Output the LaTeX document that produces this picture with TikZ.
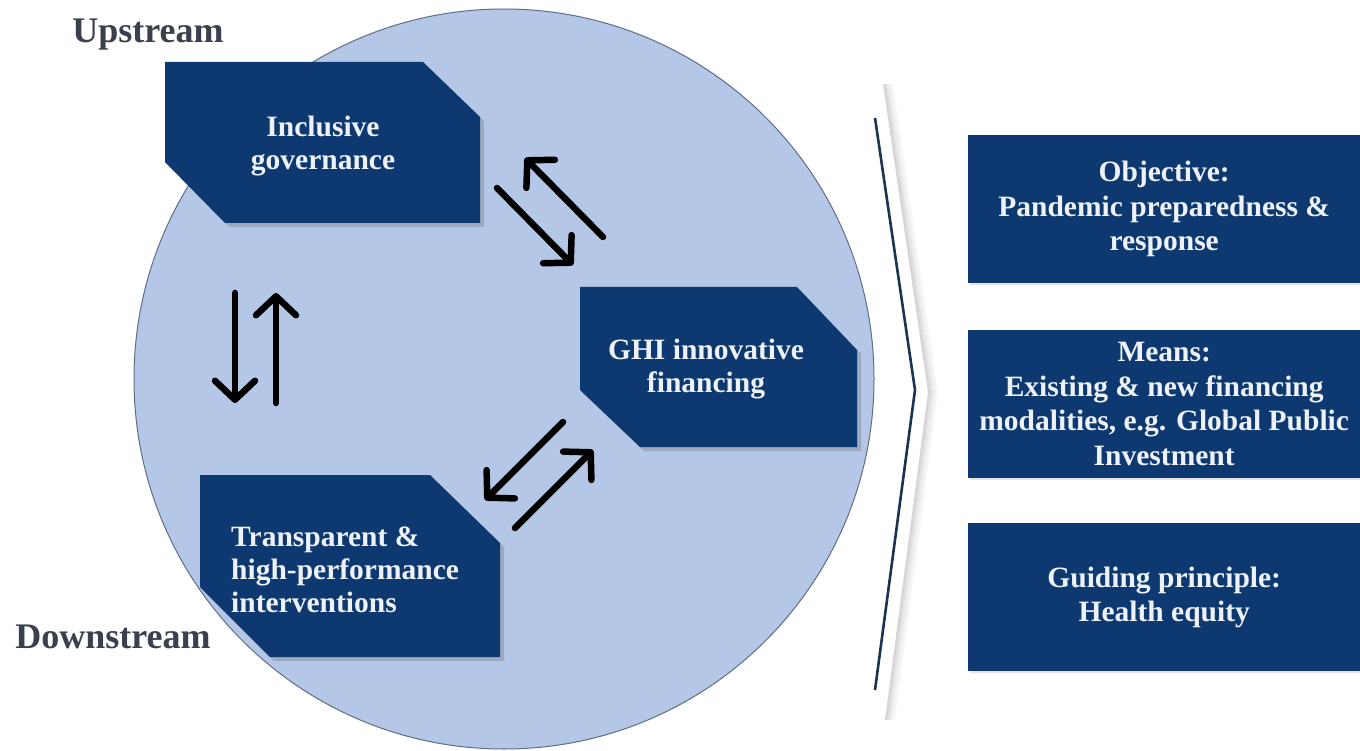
\documentclass[tikz,border=0pt]{standalone}
\usepackage{fontspec}
\setmainfont{Liberation Serif}
\usetikzlibrary{arrows.meta,shadows}
\definecolor{navy}{RGB}{13,57,112}
\definecolor{circfill}{RGB}{181,199,231}
\definecolor{circline}{RGB}{95,110,135}
\definecolor{boxtxt}{RGB}{238,242,248}
\definecolor{labtxt}{RGB}{58,64,78}
\definecolor{chevline}{RGB}{28,52,84}
\begin{document}
\begin{tikzpicture}[x=1pt,y=-1pt,
  navybox/.style={fill=navy, drop shadow={shadow xshift=4pt, shadow yshift=-4pt, opacity=0.3, fill=black!60}},
  boxtext/.style={text=boxtxt, font=\bfseries\fontsize{29.5}{33}\selectfont, align=center, inner sep=0pt},
  rbox/.style={fill=navy, minimum width=392pt, minimum height=148pt, inner sep=0pt, text=boxtxt,
    font=\bfseries\fontsize{29.5}{34.5}\selectfont, align=center, anchor=north west,
    drop shadow={shadow xshift=2pt, shadow yshift=-2pt, opacity=0.2, fill=black!50}},
  lab/.style={text=labtxt, font=\bfseries\fontsize{36}{40}\selectfont, anchor=base, inner sep=0pt},
  biarrow/.style={line width=6.5pt, line cap=round, black,
    -{Straight Barb[length=19pt, width=40pt, round]}},
  chevshade/.style={line width=2pt, black}
]
\useasboundingbox (0,0) rectangle (1360,751);
\fill[white] (0,0) rectangle (1360,751);

% chevron separator with soft shadow
\coordinate (sh1) at (884,84);
\coordinate (sh2) at (929,392);
\coordinate (sh3) at (886,720);
\foreach \d/\o in {0/0.16, 2/0.12, 4/0.08, 6/0.05, 8/0.03}{
  \draw[chevshade, opacity=\o] ([xshift=\d pt]sh1) -- ([xshift=\d pt]sh2) -- ([xshift=\d pt]sh3);
}
\coordinate (chtop) at (875,118);
\coordinate (chtip) at (915,390);
\coordinate (chbot) at (875,690);
\draw[chevline, line width=2.6pt] (chtop) -- (chtip) -- (chbot);

% big circle
\filldraw[fill=circfill, draw=circline, line width=1pt] (504,379) circle[radius=370];

% left boxes
\fill[navybox] (165,62) -- (423,62) -- (480,117) -- (480,223) -- (225,223) -- (165,162) -- cycle;
\node[boxtext] (gov) at (323,146) {Inclusive\\governance};

\fill[navybox] (580,287) -- (797,287) -- (857,350) -- (857,447) -- (640,447) -- (580,390) -- cycle;
\node[boxtext] (ghi) at (706,369) {GHI innovative\\financing};

\fill[navybox] (200,475) -- (430,475) -- (500,543) -- (500,657) -- (270,657) -- (200,587) -- cycle;
\node[boxtext, align=left, anchor=west] (trans) at (231,570) {Transparent \&\\high-performance\\interventions};

% right boxes
\node[rbox] (obj) at (968,135) {Objective:\\Pandemic preparedness \&\\response};
\node[rbox] (means) at (968,330) {Means:\\Existing \& new financing\\modalities, e.g. Global Public\\Investment};
\node[rbox] (guide) at (968,523) {Guiding principle:\\Health equity};

% labels
\node[lab] (upstream) at (148,43) {Upstream};
\node[lab] (downstream) at (113,648) {Downstream};

% arrows
\coordinate (a1s) at (603,237); \coordinate (a1e) at (525,158);
\coordinate (a2s) at (497,188); \coordinate (a2e) at (573,265);
\coordinate (a3s) at (563,422); \coordinate (a3e) at (485,500);
\coordinate (a4s) at (515,528); \coordinate (a4e) at (593,450);
\coordinate (a5s) at (235,293); \coordinate (a5e) at (235,403);
\coordinate (a6s) at (276,403); \coordinate (a6e) at (276,293);
\draw[biarrow] (a1s) -- (a1e);
\draw[biarrow] (a2s) -- (a2e);
\draw[biarrow] (a3s) -- (a3e);
\draw[biarrow] (a4s) -- (a4e);
\draw[biarrow] (a5s) -- (a5e);
\draw[biarrow] (a6s) -- (a6e);
\end{tikzpicture}
\end{document}
